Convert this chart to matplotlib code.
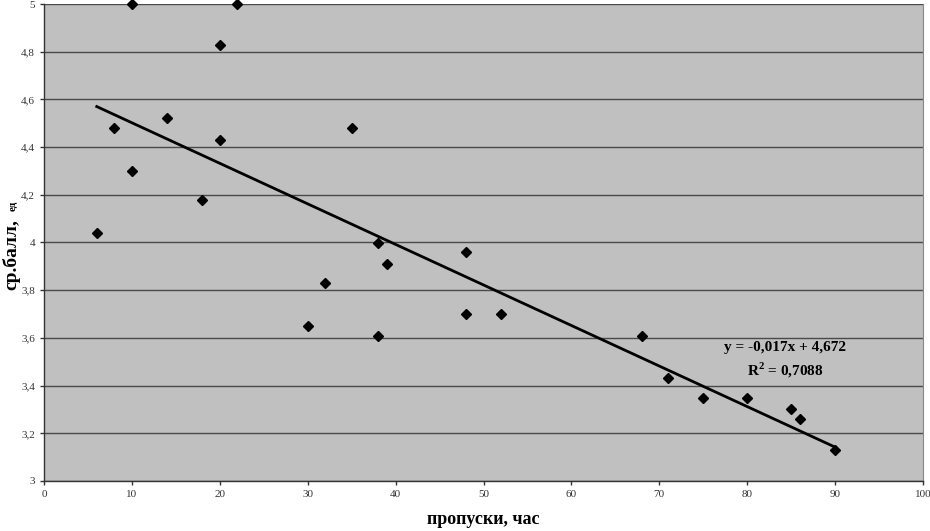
import matplotlib.pyplot as plt
from matplotlib.ticker import FuncFormatter
import numpy as np

# пропуски (часы) и средний балл
hours = [6, 8, 10, 10, 14, 18, 20, 20, 22, 30, 32, 35, 38, 38, 39,
         48, 48, 52, 68, 71, 75, 80, 85, 86, 90]
score = [4.04, 4.48, 5.00, 4.30, 4.52, 4.18, 4.83, 4.43, 5.00, 3.65, 3.83, 4.48, 4.00, 3.61, 3.91,
         3.96, 3.70, 3.70, 3.61, 3.43, 3.35, 3.35, 3.30, 3.26, 3.13]

slope = -0.017
intercept = 4.672
eq_text = 'y = -0,017x + 4,672'
r2_text = 'R$^2$ = 0,7088'

plt.rcParams['font.family'] = ['Liberation Serif', 'DejaVu Serif']
plt.rcParams['mathtext.fontset'] = 'custom'
plt.rcParams['mathtext.rm'] = 'Liberation Serif:bold'

fig = plt.figure(figsize=(9.3, 5.31), dpi=100)
ax = fig.add_axes([44 / 930, 50 / 531, 879 / 930, 477 / 531])
ax.set_facecolor('#c0c0c0')

ax.set_xlim(0, 100)
ax.set_ylim(3, 5)
ax.set_xticks(np.arange(0, 101, 10))
ax.set_yticks(np.arange(3, 5.01, 0.2))
ax.yaxis.set_major_formatter(FuncFormatter(lambda v, p: ('%g' % round(v, 1)).replace('.', ',')))
ax.grid(axis='y', color='#4a4a4a', lw=1)
ax.set_axisbelow(True)
ax.tick_params(labelsize=8, colors='#333333', length=3, width=1)

for s in ['left', 'bottom']:
    ax.spines[s].set_color('#333333')
    ax.spines[s].set_linewidth(1)
ax.spines['top'].set_visible(False)
ax.spines['right'].set_color('#888888')

ax.plot(hours, score, 'D', color='black', markersize=5, clip_on=False, zorder=3)

xl = np.array([min(hours), max(hours)])
ax.plot(xl, slope * xl + intercept, color='black', lw=2, zorder=2)

ax.text(84.3, 3.505, eq_text + '\n' + r2_text, fontsize=11, fontweight='bold',
        ha='center', va='center', linespacing=1.4)

fig.text(483 / 930, 12 / 531, 'пропуски, час', ha='center', va='center',
         fontsize=13, fontweight='bold')
fig.text(11 / 930, 241 / 531, 'ср.балл,', rotation=90, ha='center', va='bottom',
         fontsize=14, fontweight='bold')
fig.text(13 / 930, 320 / 531, 'ед', rotation=90, ha='center', va='bottom',
         fontsize=8, fontweight='bold')

fig.savefig('out.png', dpi=100)
